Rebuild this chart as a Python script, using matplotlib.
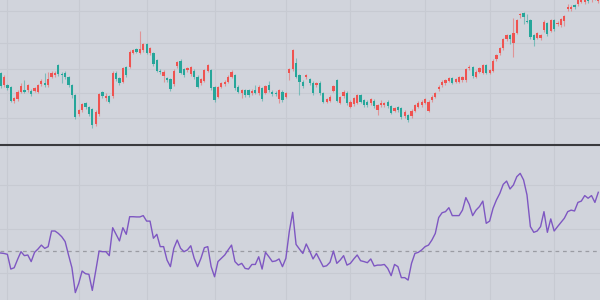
import matplotlib
matplotlib.use("Agg")
import matplotlib.pyplot as plt
from matplotlib.lines import Line2D
import numpy as np

opens = [76.7,65.0,65.0,62.7,49.0,50.7,58.3,60.0,60.0,59.3,59.3,58.3,66.0,67.3,65.0,73.3,75.0,85.0,76.0,77.3,
         72.7,65.0,55.0,36.0,40.0,46.7,42.7,40.7,26.0,36.0,57.7,51.7,54.0,54.0,77.3,72.0,68.3,82.7,83.3,97.3,
         101.0,97.3,100.0,105.7,96.7,96.7,90.0,79.3,74.0,71.7,70.7,66.0,84.0,89.3,80.7,80.0,76.0,79.3,73.3,67.0,
         69.3,79.3,80.0,62.7,53.3,63.3,66.0,68.3,73.3,75.0,63.3,57.3,60.0,60.0,56.7,60.0,56.7,61.7,57.3,65.0,
         58.3,57.3,50.7,58.3,53.3,77.3,80.7,87.3,75.0,68.3,72.7,70.7,67.3,64.7,67.3,56.7,48.3,49.3,59.3,70.0,
         47.3,54.0,57.3,43.3,46.0,47.3,55.0,50.0,48.3,46.7,49.3,40.0,44.7,44.7,48.3,44.0,39.3,42.7,41.7,34.0,
         35.0,34.0,39.3,43.3,45.0,47.3,39.3,50.0,53.3,60.7,65.0,66.7,69.3,71.7,68.3,68.3,70.0,70.0,81.7,82.7,
         73.3,78.3,77.3,85.0,77.3,79.3,90.7,96.7,101.7,110.7,115.0,107.3,117.3,135.0,136.7,129.3,130.0,115.0,111.7,111.7,
         120.0,126.7,119.3,130.0,126.0,125.0,129.3,140.7,140.7,145.0,146.0,148.3,148.0,151.0,150.0,154.0,149.0]
closes = [64.0,73.3,62.0,49.3,51.7,58.3,64.0,58.0,65.0,56.0,61.7,65.0,69.3,65.0,70.7,77.3,77.3,76.0,74.7,72.7,
          65.0,55.0,32.7,40.0,46.0,42.7,36.0,25.0,38.3,56.0,54.0,54.0,48.3,77.3,70.7,66.7,81.7,75.0,98.3,100.0,
          98.3,101.0,106.0,97.3,101.7,86.0,79.3,78.0,78.0,70.0,60.7,79.3,88.0,77.3,75.0,81.7,82.7,72.7,63.3,71.0,
          80.0,85.0,61.7,50.0,62.7,66.7,68.3,73.3,78.3,61.7,58.3,60.0,55.0,55.0,59.3,57.3,63.3,50.7,64.0,60.0,
          56.0,55.7,60.0,50.0,56.7,80.7,100.0,73.3,68.3,64.0,75.0,66.7,56.7,66.7,56.7,48.3,50.7,53.3,64.0,49.3,
          52.7,58.3,46.7,48.3,51.7,55.0,48.3,45.0,45.0,50.7,44.0,45.0,46.7,46.7,44.0,37.3,41.7,40.0,32.7,38.3,
          30.0,39.3,45.0,47.3,48.3,50.7,48.3,53.3,56.7,63.3,68.3,70.0,71.7,67.3,70.7,72.7,72.7,80.7,83.3,74.0,
          78.3,82.0,85.0,77.3,80.0,89.3,95.0,101.7,110.7,115.0,110.7,116.7,130.0,136.0,133.3,128.3,112.7,110.0,116.7,115.0,
          128.3,116.0,130.0,120.7,127.3,130.7,134.0,142.7,143.3,142.7,150.0,152.0,151.0,149.0,154.0,152.0,153.0]
highs = [78.2,74.8,66.5,64.2,53.2,59.8,67.0,70.0,66.5,60.8,63.2,66.5,70.8,77.3,78.3,78.8,78.8,86.5,78.3,78.8,
         74.2,66.5,56.5,41.5,47.5,48.2,44.2,42.2,39.8,57.5,59.2,57.0,55.5,78.8,78.8,73.5,83.2,84.2,99.8,101.5,
         102.5,119.0,107.5,107.2,103.2,98.2,91.5,80.8,80.0,73.2,72.2,80.8,89.5,90.8,82.2,83.2,84.2,80.8,74.8,72.5,
         81.5,86.5,81.5,64.2,64.2,68.2,69.8,74.8,79.8,76.5,64.8,61.5,61.5,61.5,60.8,65.0,64.8,63.2,65.5,69.3,
         59.8,58.8,61.5,59.8,58.2,82.2,101.5,91.7,76.5,69.8,76.5,72.2,68.8,68.2,68.8,58.2,52.2,54.8,65.5,71.5,
         54.2,59.8,58.8,49.8,53.2,56.5,56.5,51.5,49.8,52.2,50.8,46.5,50.0,48.2,49.8,45.5,43.2,44.2,43.2,39.8,
         36.5,40.8,46.5,48.8,49.8,52.2,49.8,54.8,58.2,64.8,69.8,71.5,73.2,73.2,72.2,74.2,74.2,82.2,84.8,84.2,
         79.8,83.5,86.5,86.5,81.5,90.8,96.5,103.2,112.2,116.5,116.5,131.7,131.5,137.3,138.2,136.0,131.5,116.5,118.3,116.5,
         129.8,128.2,131.5,131.5,128.8,132.2,135.5,146.0,144.8,146.5,151.5,153.5,152.5,152.5,155.5,155.5,154.5]
lows = [62.5,63.5,60.5,47.8,47.5,49.2,56.8,57.0,58.5,54.5,57.8,56.8,64.5,63.5,63.5,71.8,73.5,74.5,66.7,71.2,
        63.5,52.0,31.2,34.5,38.5,41.2,34.5,22.0,24.5,34.5,52.5,49.0,46.8,52.5,69.2,65.2,66.8,73.5,81.8,95.8,
        96.8,95.8,98.5,95.8,95.2,84.5,77.8,76.5,68.3,68.5,59.2,64.5,82.5,75.8,73.5,78.5,74.5,71.2,61.8,65.5,
        67.8,77.8,60.2,48.5,51.8,61.8,64.5,66.8,71.8,60.2,56.8,51.7,53.5,53.5,55.2,55.8,55.2,49.2,55.8,58.5,
        54.5,54.2,47.3,48.5,51.8,70.0,79.2,71.8,55.0,62.5,71.2,65.2,55.2,63.2,55.2,46.8,46.8,47.8,57.8,47.8,
        45.8,52.5,45.2,41.8,44.5,45.8,46.8,43.5,43.5,45.2,42.5,35.0,43.2,43.2,42.5,35.8,37.8,38.5,31.2,32.5,
        28.5,32.5,37.8,41.8,43.5,45.8,37.8,48.5,51.8,59.2,63.5,65.2,67.8,65.8,66.8,66.8,68.5,68.5,80.2,72.5,
        71.8,76.8,75.8,75.8,75.8,77.8,89.2,95.2,100.2,109.2,106.0,93.3,115.8,131.7,126.0,126.7,111.2,104.0,110.7,110.2,
        118.5,114.5,117.8,119.2,124.5,123.5,124.0,139.2,139.2,141.2,144.5,146.8,146.5,147.5,148.5,150.5,147.5]
rsi = [49.0,48.8,48.4,41.7,42.3,46.1,49.6,47.8,48.1,45.1,49.3,50.8,52.6,51.1,51.9,59.0,59.0,57.9,56.4,54.2,
       48.1,42.3,31.0,35.2,40.8,39.6,39.3,32.0,40.8,49.9,49.6,49.6,47.8,60.5,57.5,54.5,60.5,57.5,65.5,65.5,
       65.4,65.4,66.0,63.5,63.5,
       55.7,57.5,51.9,51.9,45.8,42.8,51.1,54.9,51.1,49.6,50.4,52.3,46.6,42.8,46.6,51.4,51.9,42.8,38.2,45.1,
       46.6,48.1,50.4,52.6,45.1,43.5,44.3,42.0,41.7,43.8,43.8,47.3,41.7,49.3,47.3,45.1,45.4,46.3,42.8,46.6,
       58.7,67.5,52.9,50.8,
       48.8,53.1,49.9,46.3,48.8,45.8,42.8,43.2,44.8,49.9,44.3,45.8,47.8,43.5,44.3,46.3,48.1,45.5,45.1,44.6,
       46.3,43.1,43.5,43.5,43.8,42.0,38.7,43.8,42.8,37.8,37.8,36.7,44.3,48.8,49.3,50.4,51.9,52.6,54.9,57.9,
       65.1,67.3,67.8,69.6,
       66.0,66.0,66.0,68.5,74.2,71.1,66.0,68.5,70.1,72.6,62.5,63.5,69.3,73.1,76.1,80.2,81.7,78.1,79.9,83.7,
       85.2,82.2,75.4,61.0,58.4,59.0,61.0,67.8,58.4,64.5,59.0,61.0,62.9,64.8,67.8,68.5,68.1,72.0,72.6,75.1,
       73.9,75.1,72.0,76.6]
month_ticks = [2, 23, 43, 63, 84, 103, 125, 144, 163]
price_grid = [139.3, 107.3, 80.7, 56.7, 31.7]
rsi_grid = [80, 60, 40]
rsi_mid = 50

BG = '#d1d4dc'
GRID = '#c7cad2'
UP = '#ef5350'
DOWN = '#26a69a'

fig = plt.figure(figsize=(6, 3), dpi=100, facecolor=BG)
ax1 = fig.add_axes([0, 156/300, 1, 144/300])
ax2 = fig.add_axes([0, 0, 1, 154/300])
n = len(opens)
x = np.arange(n)
for ax in (ax1, ax2):
    ax.set_facecolor(BG)
    for s in ax.spines.values():
        s.set_visible(False)
    ax.set_xticks([]); ax.set_yticks([])
    ax.set_xlim(-0.18, 176.5)
    for t in month_ticks:
        ax.axvline(t, color=GRID, lw=0.8, zorder=0)

for g in price_grid:
    ax1.axhline(g, color=GRID, lw=0.8, zorder=0)
for g in rsi_grid:
    ax2.axhline(g, color=GRID, lw=0.8, zorder=0)

o = np.array(opens); c = np.array(closes); h = np.array(highs); l = np.array(lows)
up = c >= o
cols = np.where(up, UP, DOWN)
ax1.vlines(x, l, h, colors=cols, lw=0.8, alpha=0.5, zorder=2)
body_lo = np.minimum(o, c)
body_h = np.maximum(np.abs(c - o), 0.9)
ax1.bar(x, body_h, bottom=body_lo, width=0.66, color=cols, linewidth=0, zorder=3)
ax1.set_ylim(6, 150)

ax2.axhline(rsi_mid, color='#9a9ca3', lw=0.9, ls=(0, (3, 3)), zorder=1)
ax2.plot(x, rsi, color='#7e57c2', lw=1.0, zorder=3)
ax2.set_ylim(27.64, 97.64)

fig.add_artist(Line2D([0, 1], [155/300, 155/300], transform=fig.transFigure,
                      color='#3a3a3e', lw=1.5))
fig.savefig('out.png', dpi=100, facecolor=BG)
